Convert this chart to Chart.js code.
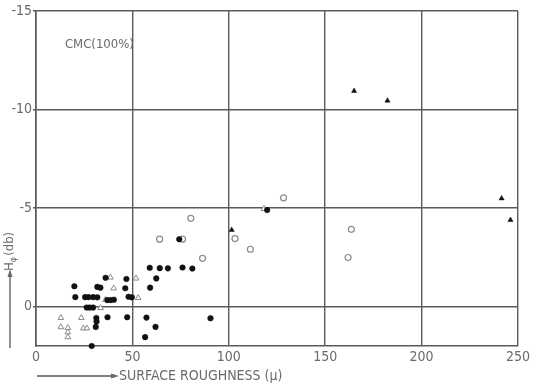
<!DOCTYPE html>
<html>
<head>
<meta charset="utf-8">
<script src="https://cdn.jsdelivr.net/npm/chart.js@4/dist/chart.umd.min.js"></script>
<style>
html,body{margin:0;padding:0;background:#fff;}
#wrap{width:533px;height:386px;position:relative;}
</style>
</head>
<body>
<div id="wrap"><canvas id="c" width="533" height="386"></canvas></div>
<script>
// ---- data ----
const xTicks = [0, 50, 100, 150, 200, 250];
const yTicks = [-15, -10, -5, 0];

const filledCircleX = [19.9, 20.4, 25.5, 27.2, 29.6, 31.8, 31.8, 33.4, 36.1, 46.9, 46.3, 48.0, 49.7, 37.0, 38.7, 40.4, 26.3, 27.8, 29.6, 31.3, 31.4, 31.0, 37.1, 47.3, 28.9, 59.0, 64.2, 68.4, 76.0, 81.1, 62.4, 59.2, 57.3, 62.0, 56.6, 90.5, 74.3, 119.9];
const filledCircleY = [-1.03, -0.48, -0.48, -0.48, -0.48, -0.47, -1.0, -0.96, -1.46, -1.4, -0.93, -0.5, -0.47, -0.33, -0.33, -0.35, 0.05, 0.05, 0.05, 0.58, 0.76, 1.03, 0.54, 0.54, 2.0, -1.97, -1.95, -1.94, -1.98, -1.93, -1.43, -0.96, 0.56, 1.03, 1.55, 0.59, -3.42, -4.9];

const openCircleX = [80.3, 64.1, 76.0, 86.4, 103.2, 111.2, 128.4, 163.6, 161.9];
const openCircleY = [-4.48, -3.42, -3.42, -2.45, -3.45, -2.91, -5.52, -3.92, -2.49];

const openTriangleX = [38.6, 40.3, 51.9, 53.0, 33.5, 12.9, 23.5, 12.9, 16.5, 16.5, 16.5, 24.6, 26.4, 36.0, 118.2];
const openTriangleY = [-1.48, -0.93, -1.43, -0.44, 0.07, 0.57, 0.57, 1.04, 1.08, 1.3, 1.55, 1.1, 1.1, -0.34, -4.96];

const filledTriangleX = [101.5, 165.0, 182.3, 241.5, 246.1];
const filledTriangleY = [-3.89, -10.94, -10.45, -5.49, -4.39];

const labelText = "CMC(100%)";
const xTitle = "SURFACE ROUGHNESS (\u03BC)";

function pts(xs, ys){ return xs.map((x,i)=>({x:x, y:ys[i]})); }

const FONT = "'Liberation Sans Narrow','DejaVu Sans Condensed','Liberation Sans',sans-serif";
const TXT = '#6a6a6a';
const GRID = '#5a5a5a';

const decor = {
  id:'decor',
  afterDraw(chart){
    const ctx = chart.ctx;
    const xs = chart.scales.x, ys = chart.scales.y;
    ctx.save();
    ctx.fillStyle = TXT;
    ctx.strokeStyle = '#555';
    // annotation
    ctx.font = '13px ' + FONT;
    ctx.textAlign = 'left';
    ctx.textBaseline = 'middle';
    ctx.fillText(labelText, xs.getPixelForValue(15), ys.getPixelForValue(-13.3));
    // x title with arrow
    const ty = 376;
    const ax0 = xs.left + 1, ax1 = xs.left + 80;
    ctx.lineWidth = 1.3;
    ctx.beginPath(); ctx.moveTo(ax0, ty); ctx.lineTo(ax1, ty); ctx.stroke();
    ctx.beginPath(); ctx.moveTo(ax1+3, ty); ctx.lineTo(ax1-5, ty-2.5); ctx.lineTo(ax1-5, ty+2.5); ctx.closePath(); ctx.fill();
    ctx.font = '14px ' + FONT;
    ctx.textBaseline = 'middle';
    ctx.fillText(xTitle, ax1 + 3, ty);
    // y title with arrow (rotated)
    const tx = 10;
    ctx.save();
    ctx.translate(tx, 0);
    ctx.rotate(-Math.PI/2);
    // in rotated frame: x -> -y
    const arrowStart = ys.bottom + 2; // bottom
    const arrowEnd = 272;
    ctx.beginPath(); ctx.moveTo(-arrowStart, 0); ctx.lineTo(-arrowEnd, 0); ctx.stroke();
    ctx.beginPath(); ctx.moveTo(-arrowEnd+3, 0); ctx.lineTo(-arrowEnd-5, -2.5); ctx.lineTo(-arrowEnd-5, 2.5); ctx.closePath(); ctx.fill();
    let p = -arrowEnd + 1;
    ctx.font = '13px ' + FONT;
    ctx.textBaseline = 'middle';
    ctx.textAlign = 'left';
    ctx.fillText('H', p, 0); p += ctx.measureText('H').width;
    ctx.font = '9px ' + FONT;
    ctx.fillText('\u03C6', p, 4); p += ctx.measureText('\u03C6').width + 1;
    ctx.font = '13px ' + FONT;
    ctx.fillText('(db)', p, 0);
    ctx.restore();
    ctx.restore();
  }
};

new Chart(document.getElementById('c'), {
  type: 'scatter',
  data: {
    datasets: [
      {label:'filled circles', data: pts(filledCircleX, filledCircleY), pointStyle:'circle', pointRadius:2.8, backgroundColor:'#111', borderColor:'#111', borderWidth:0.5, clip:false},
      {label:'open circles', data: pts(openCircleX, openCircleY), pointStyle:'circle', pointRadius:3, backgroundColor:'#fff', borderColor:'#8a8a8a', borderWidth:1.2, clip:false},
      {label:'open triangles', data: pts(openTriangleX, openTriangleY), pointStyle:'triangle', pointRadius:3.3, backgroundColor:'#fff', borderColor:'#8a8a8a', borderWidth:1, clip:false},
      {label:'filled triangles', data: pts(filledTriangleX, filledTriangleY), pointStyle:'triangle', pointRadius:3, backgroundColor:'#111', borderColor:'#111', borderWidth:0.5, clip:false}
    ]
  },
  options: {
    responsive: false,
    animation: false,
    layout: {padding: {left:0, right:7, top:11, bottom:0}},
    plugins: {legend:{display:false}, tooltip:{enabled:false}},
    scales: {
      x: {
        type:'linear', min:0, max:250,
        afterBuildTicks(s){ s.ticks = xTicks.map(v=>({value:v})); },
        afterFit(s){ s.height = 40; },
        grid:{color:GRID, lineWidth:1.4, tickLength:0, drawTicks:false},
        border:{color:GRID, width:1.6},
        ticks:{color:TXT, font:{family:FONT, size:14}, padding:3, maxRotation:0}
      },
      y: {
        type:'linear', min:-15, max:2, reverse:true,
        afterBuildTicks(s){ s.ticks = yTicks.map(v=>({value:v})); },
        afterFit(s){ s.width = 36; },
        grid:{color:GRID, lineWidth:1.4, tickLength:3},
        border:{color:GRID, width:1.6},
        ticks:{color:TXT, font:{family:FONT, size:14}, padding:1}
      }
    }
  },
  plugins:[decor]
});
</script>
</body>
</html>
